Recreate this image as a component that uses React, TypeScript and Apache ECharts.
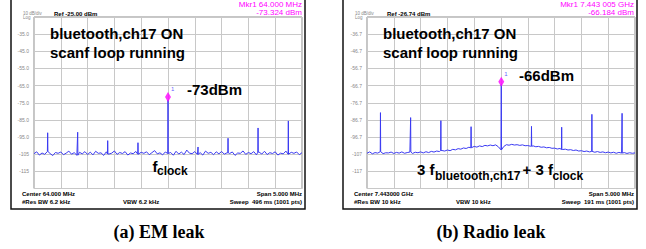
import React, { useEffect, useRef } from "react";
import * as echarts from "echarts";

// ---------- data ----------
const freqStepMHz = 0.05;
const xMinA = 61.5; // MHz (center 64.000, span 5)
const xMaxA = 66.5;
const xMinB = 7440.5; // MHz (center 7443.000, span 5)
const xMaxB = 7445.5;
const refA = -25.0;
const refB = -26.74;

const noiseA = [
  -104.7, -103.6, -105.5, -104.3, -105.1, -103.4, -104.6, -105.8, -104.0, -104.5,
  -103.7, -105.3, -104.4, -103.2, -105.0, -104.1, -105.6, -103.9, -104.8, -103.5,
  -105.2, -103.8, -105.4, -103.3, -104.5, -104.2, -105.7, -103.6, -104.9, -104.4,
  -103.1, -105.1, -104.0, -104.6, -103.5, -105.5, -104.3, -104.7, -103.4, -105.0,
  -103.9, -104.5, -103.6, -105.3, -104.1, -102.9, -104.8, -104.2, -105.4, -103.7,
  -104.6, -104.0, -105.6, -103.3, -104.9, -103.8, -105.2, -102.6, -104.4, -104.7,
  -103.5, -105.1, -104.1, -105.5, -103.2, -104.5, -103.9, -105.3, -103.6, -104.8,
  -103.4, -105.0, -104.2, -104.6, -103.7, -105.7, -104.3, -104.5, -103.1, -105.1,
  -104.0, -104.7, -103.5, -105.4, -103.8, -104.9, -103.3, -105.2, -104.1, -104.6,
  -103.6, -105.5, -104.4, -104.8, -103.2, -105.0, -103.9, -104.5, -103.7, -105.3, -104.1,
];
const spikeFreqA = [61.755, 62.315, 62.875, 63.44, 64.0, 64.56, 65.12, 65.68, 66.245];
const spikeLevelA = [-92.5, -92.2, -97.1, -98.3, -73.32, -100.8, -95.7, -89.7, -85.6];

const noiseB = [
  -106.2, -105.4, -106.5, -105.8, -106.1, -105.3, -106.4, -105.9, -106.0, -105.5,
  -106.3, -105.7, -106.1, -105.4, -106.2, -105.8, -105.5, -106.3, -105.6, -105.9,
  -105.4, -106.0, -105.3, -105.8, -105.1, -105.5, -104.9, -105.2, -104.6, -104.9,
  -104.3, -104.7, -103.9, -104.2, -103.5, -103.8, -103.1, -103.4, -102.7, -103.0,
  -102.2, -102.6, -101.9, -102.3, -101.6, -101.9, -101.4, -101.8, -101.3, -102.4,
  -104.2, -102.3, -101.2, -101.5, -101.0, -101.4, -101.2, -101.6, -101.3, -101.8,
  -101.7, -102.1, -101.9, -102.4, -102.2, -102.7, -102.5, -103.0, -102.8, -103.3,
  -103.2, -103.7, -103.4, -104.0, -103.8, -104.3, -104.1, -104.6, -104.3, -104.9,
  -104.7, -105.2, -104.9, -105.4, -105.1, -105.6, -105.2, -105.7, -105.4, -105.9,
  -105.5, -106.0, -105.6, -106.2, -105.7, -106.1, -105.8, -106.3, -105.9, -106.2, -106.0,
];
const spikeFreqB = [7440.751, 7441.314, 7441.878, 7442.442, 7443.005, 7443.569, 7444.132, 7444.696, 7445.259];
const spikeLevelB = [-82.5, -85.4, -87.2, -90.7, -66.18, -90.5, -91.0, -83.5, -82.9];

const markerA = [64.0, -73.324];
const markerB = [7443.005, -66.184];

// ---------- helpers ----------
function buildTrace(xMin: number, noise: number[], sf: number[], sl: number[]) {
  const pts: number[][] = noise.map((v, i) => [xMin + i * freqStepMHz, v]);
  sf.forEach((f, k) => {
    const idx = Math.round((f - xMin) / freqStepMHz);
    const base = noise[Math.max(0, Math.min(noise.length - 1, idx))];
    pts.push([f - 0.004, base]);
    pts.push([f, sl[k]]);
    pts.push([f + 0.004, base]);
  });
  pts.sort((a, b) => a[0] - b[0]);
  return pts;
}

const SANS = "Liberation Sans, Arial, sans-serif";

function txt(
  x: number,
  y: number,
  text: string,
  size: number,
  opts: { bold?: boolean; color?: string; align?: string; family?: string } = {}
) {
  const align = opts.align || "left";
  return {
    type: "text",
    x,
    y,
    z: 100,
    silent: true,
    style: {
      text,
      fontSize: size,
      fontWeight: opts.bold ? "bold" : "normal",
      fontFamily: opts.family || SANS,
      fill: opts.color || "#000",
      align,
      textAlign: align,
      verticalAlign: "middle",
      textVerticalAlign: "middle",
    },
  };
}

function yLabel(v: number) {
  return v.toPrecision(3);
}

export default function App() {
  const ref = useRef<HTMLDivElement>(null);

  useEffect(() => {
    if (!ref.current) return;
    const chart = echarts.init(ref.current, undefined, { renderer: "svg" });

    const gridBox = { top: 17, height: 171.5, width: 268 };
    const splitStyle = { show: true, lineStyle: { color: "#c8c8c8", width: 1 } };

    const xAxisBase = {
      type: "value",
      interval: 0.5,
      axisLabel: { show: false },
      axisTick: { show: false },
      axisLine: { show: false },
      splitLine: splitStyle,
    };
    const yAxisBase = {
      type: "value",
      interval: 10,
      axisTick: { show: false },
      axisLine: { show: false },
      splitLine: splitStyle,
      axisLabel: {
        show: true,
        fontSize: 5,
        color: "#888",
        fontFamily: SANS,
        margin: 5,
        showMinLabel: false,
        showMaxLabel: false,
        formatter: yLabel,
      },
    };

    const lineColor = "#3a3af2";

    const graphic: any[] = [
      // panel frames
      { type: "rect", shape: { x: 11, y: -5, width: 294, height: 214 }, style: { fill: "none", stroke: "#111", lineWidth: 1.5 }, z: 90, silent: true },
      { type: "rect", shape: { x: 343, y: -5, width: 294, height: 214 }, style: { fill: "none", stroke: "#111", lineWidth: 1.5 }, z: 90, silent: true },
      // left header
      txt(302, 4.5, "Mkr1 64.000 MHz", 8, { color: "#ff00ff", align: "right" }),
      txt(302, 12, "-73.324 dBm", 8, { color: "#ff00ff", align: "right" }),
      txt(23, 13.5, "10 dB/div", 4.5, { color: "#888" }),
      txt(23, 17.5, "Log", 4.5, { color: "#888" }),
      txt(54, 14, "Ref -25.00 dBm", 6, { bold: true }),
      // right header
      txt(634, 4.5, "Mkr1 7.443 005 GHz", 8, { color: "#ff00ff", align: "right" }),
      txt(634, 12, "-66.184 dBm", 8, { color: "#ff00ff", align: "right" }),
      txt(355, 13.5, "10 dB/div", 4.5, { color: "#888" }),
      txt(355, 17.5, "Log", 4.5, { color: "#888" }),
      txt(387, 14, "Ref -26.74 dBm", 6, { bold: true }),
      // left annotations
      txt(50, 33, "bluetooth,ch17 ON", 15, { bold: true }),
      txt(50, 52, "scanf loop running", 15, { bold: true }),
      txt(187, 89, "-73dBm", 15, { bold: true }),
      txt(152.5, 166, "f", 15, { bold: true }),
      txt(157, 170.5, "clock", 12, { bold: true }),
      // right annotations
      txt(383, 33, "bluetooth,ch17 ON", 15, { bold: true }),
      txt(383, 52, "scanf loop running", 15, { bold: true }),
      txt(519, 75, "-66dBm", 15, { bold: true }),
      txt(417, 169, "3 f", 15, { bold: true }),
      txt(435, 175.5, "bluetooth,ch17", 12, { bold: true }),
      txt(522.5, 169, "+ 3 f", 15, { bold: true }),
      txt(552.5, 175.5, "clock", 12, { bold: true }),
      // left footer
      txt(22, 194, "Center 64.000 MHz", 6, { bold: true }),
      txt(22, 202, "#Res BW 6.2 kHz", 6, { bold: true }),
      txt(123, 202, "VBW 6.2 kHz", 6, { bold: true }),
      txt(302, 194, "Span 5.000 MHz", 6, { bold: true, align: "right" }),
      txt(302, 202, "Sweep  496 ms (1001 pts)", 6, { bold: true, align: "right" }),
      // right footer
      txt(354, 194, "Center 7.443000 GHz", 6, { bold: true }),
      txt(354, 202, "#Res BW 10 kHz", 6, { bold: true }),
      txt(456, 202, "VBW 10 kHz", 6, { bold: true }),
      txt(634, 194, "Span 5.000 MHz", 6, { bold: true, align: "right" }),
      txt(634, 202, "Sweep  191 ms (1001 pts)", 6, { bold: true, align: "right" }),
      // captions
      txt(159, 232, "(a) EM leak", 18, { bold: true, align: "center", family: "Liberation Serif, serif" }),
      txt(491, 232, "(b) Radio leak", 18, { bold: true, align: "center", family: "Liberation Serif, serif" }),
    ];

    const markerSeries = (xi: number, pt: number[]) => ({
      type: "scatter",
      xAxisIndex: xi,
      yAxisIndex: xi,
      data: [pt],
      symbol: "diamond",
      symbolSize: [6, 10],
      symbolOffset: [0, -3],
      itemStyle: { color: "#ff00ff" },
      z: 10,
      silent: true,
      label: {
        show: true,
        formatter: "1",
        position: [6, -6],
        fontSize: 6,
        color: "#3333ff",
        fontFamily: SANS,
      },
    });

    chart.setOption({
      animation: false,
      backgroundColor: "#ffffff",
      grid: [
        { left: 34, ...gridBox, show: true, borderColor: "#8c8c8c", borderWidth: 1, backgroundColor: "#fff" },
        { left: 367, ...gridBox, show: true, borderColor: "#8c8c8c", borderWidth: 1, backgroundColor: "#fff" },
      ],
      xAxis: [
        { ...xAxisBase, gridIndex: 0, min: xMinA, max: xMaxA },
        { ...xAxisBase, gridIndex: 1, min: xMinB, max: xMaxB },
      ],
      yAxis: [
        { ...yAxisBase, gridIndex: 0, min: refA - 100, max: refA },
        { ...yAxisBase, gridIndex: 1, min: refB - 100, max: refB },
      ],
      series: [
        {
          type: "line",
          xAxisIndex: 0,
          yAxisIndex: 0,
          data: buildTrace(xMinA, noiseA, spikeFreqA, spikeLevelA),
          showSymbol: false,
          symbol: "none",
          lineStyle: { color: lineColor, width: 1 },
          silent: true,
        },
        {
          type: "line",
          xAxisIndex: 1,
          yAxisIndex: 1,
          data: buildTrace(xMinB, noiseB, spikeFreqB, spikeLevelB),
          showSymbol: false,
          symbol: "none",
          lineStyle: { color: lineColor, width: 1 },
          silent: true,
        },
        markerSeries(0, markerA),
        markerSeries(1, markerB),
      ],
      graphic,
    });

    return () => chart.dispose();
  }, []);

  return (
    <div
      ref={ref}
      style={{ position: "fixed", left: 0, top: 0, width: 646, height: 249, background: "#fff" }}
    />
  );
}
